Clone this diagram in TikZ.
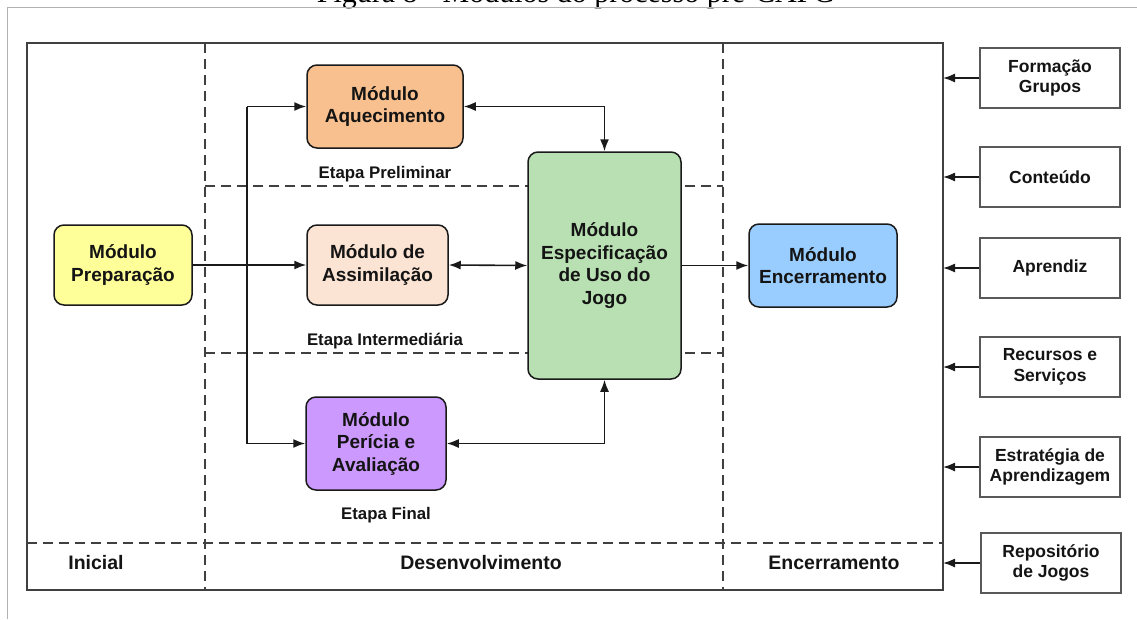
\documentclass[tikz,border=0pt]{standalone}
\usepackage{fontspec}
\setmainfont{Liberation Sans}
\newfontfamily\capfont{Liberation Serif}
\usetikzlibrary{arrows.meta}
\definecolor{cyel}{HTML}{FFFF99}
\definecolor{cora}{HTML}{F8C08E}
\definecolor{cpea}{HTML}{FCE4D4}
\definecolor{cpur}{HTML}{CC99FF}
\definecolor{cgre}{HTML}{B9E0B3}
\definecolor{cblu}{HTML}{99CCFF}
\definecolor{cline}{HTML}{1A1A1A}
\definecolor{cframe}{HTML}{404040}
\begin{document}
\begin{tikzpicture}[x=1pt,y=-1pt,
  module/.style={draw=cline, line width=1.5pt, rounded corners=10pt, align=center,
    font=\fontsize{19}{22.5}\selectfont\bfseries, text=black!92, inner sep=0pt},
  side/.style={draw=black!65, line width=1.2pt, align=center, minimum width=140pt,
    minimum height=60pt, font=\fontsize{17.5}{20.5}\selectfont\bfseries, text=black!92, inner sep=0pt},
  lbl/.style={font=\fontsize{16.8}{19}\selectfont\bfseries, text=black!92},
  phase/.style={font=\fontsize{19.5}{22}\selectfont\bfseries, text=black!92},
  plain/.style={line width=1.6pt, cline},
  conn/.style={plain, -{Latex[length=12pt,width=9pt]}},
  biarrow/.style={plain, {Latex[length=12pt,width=9pt]}-{Latex[length=12pt,width=9pt]}},
  dsh/.style={line width=1.8pt, cframe, dash pattern=on 10pt off 6pt},
]
\useasboundingbox (0,0) rectangle (1137,619);
\fill[white] (0,0) rectangle (1137,619);
% caption (cut off at the top, as in the source)
\begin{scope}
\clip (0,0) rectangle (1137,619);
\node[anchor=base, font=\capfont\fontsize{30}{30}\selectfont, inner sep=0pt] (cap) at (576,2) {Figura 8 - Módulos do processo pré-CAPG};
\end{scope}
\draw[black!30, line width=1pt] (7,619) -- (7,7) -- (1137,7);

% frame and phase dividers
\draw[cframe, line width=2pt] (27,43) rectangle (943,590);
\draw[dsh] (205,43) -- (205,590);
\draw[dsh] (723,43) -- (723,590);
\draw[dsh] (27,543) -- (943,543);
\draw[dsh] (205,186) -- (723,186);
\draw[dsh] (205,353) -- (723,353);
\coordinate (fr) at (943,0);
\coordinate (vt) at (247,0);

% modules
\node[module, fill=cyel, minimum width=138pt, minimum height=80pt] (prep) at (123,265) {Módulo\\Preparação};
\node[module, fill=cora, minimum width=156pt, minimum height=83pt] (aq) at (385,106.5) {Módulo\\Aquecimento};
\node[module, fill=cpea, minimum width=141pt, minimum height=80pt] (assim) at (377.5,265) {Módulo de\\Assimilação};
\node[module, fill=cpur, minimum width=140pt, minimum height=93pt] (per) at (376,443.5) {Módulo\\Perícia e\\Avaliação};
\node[module, fill=cgre, minimum width=153pt, minimum height=227pt] (esp) at (604.5,265.5) {Módulo\\Especificação\\de Uso do\\Jogo};
\node[module, fill=cblu, minimum width=148pt, minimum height=83pt] (enc) at (823,265.5) {Módulo\\Encerramento};

% stage labels
\node[lbl] (l1) at (385,174) {Etapa Preliminar};
\node[lbl] (l2) at (385,341) {Etapa Intermediária};
\node[lbl] (l3) at (386,515) {Etapa Final};
\node[phase] (p1) at (96,563) {Inicial};
\node[phase] (p2) at (481,563) {Desenvolvimento};
\node[phase] (p3) at (834,563) {Encerramento};

% side inputs
\node[side] (s1) at (1050,78) {Formação\\Grupos};
\node[side] (s2) at (1050,177) {Conteúdo};
\node[side] (s3) at (1050,268) {Aprendiz};
\node[side] (s4) at (1050,367) {Recursos e\\Serviços};
\node[side] (s5) at (1050,467) {Estratégia de\\Aprendizagem};
\node[side] (s6) at (1051,563) {Repositório\\de Jogos};
\foreach \s in {s1,s2,s3,s4,s5,s6}
  \draw[conn] (\s.west) -- (\s.west -| fr);

% connectors
\draw[conn] (prep.east) -- (assim.west);
\draw[plain] (vt |- aq.west) -- (vt |- per.west);
\draw[conn] (vt |- aq.west) -- (aq.west);
\draw[conn] (vt |- per.west) -- (per.west);
\draw[biarrow] (aq.east) -| (esp.north);
\draw[biarrow] (assim.east) -- (esp.west);
\draw[biarrow] (per.east) -| (esp.south);
\draw[conn] (esp.east) -- (enc.west);
\end{tikzpicture}
\end{document}
